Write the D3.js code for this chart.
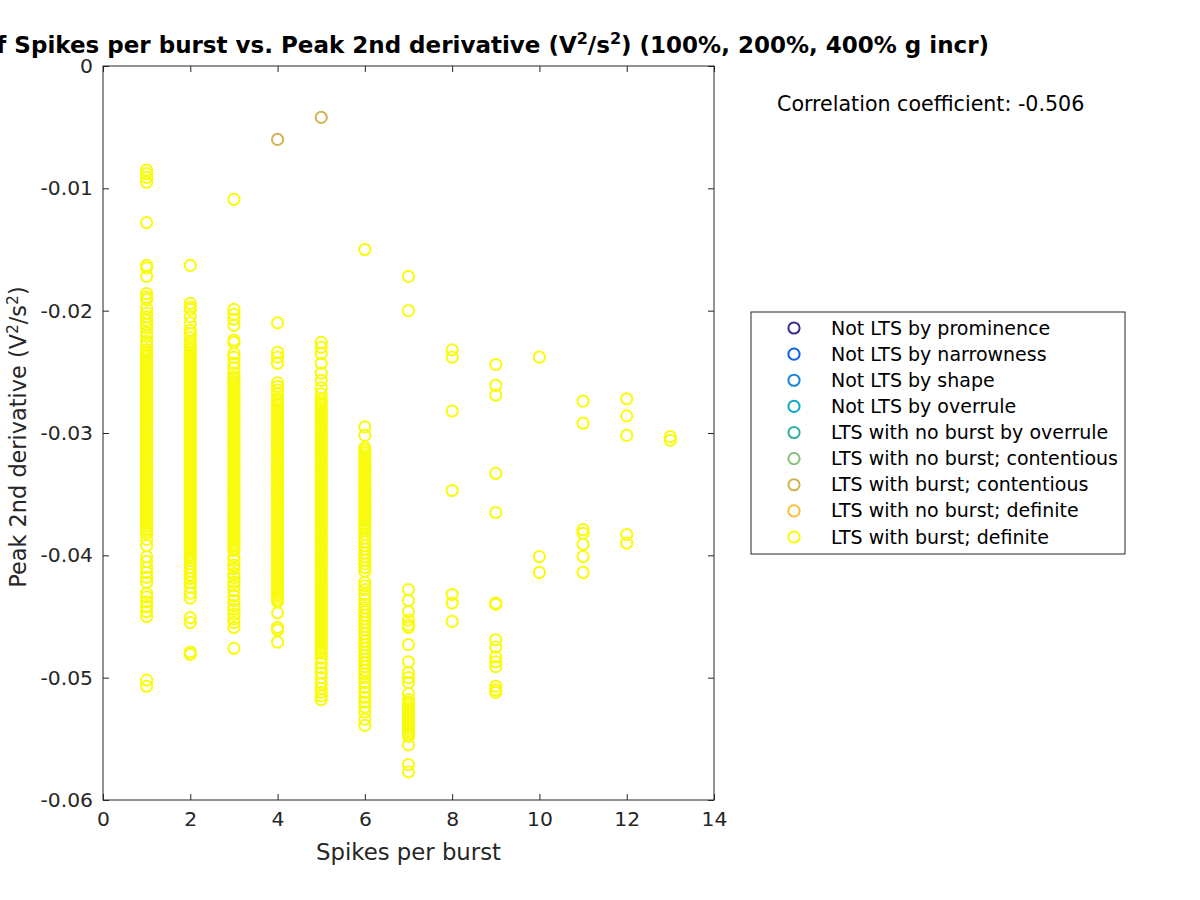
<!DOCTYPE html>
<html><head><meta charset="utf-8">
<script src="https://cdn.jsdelivr.net/npm/d3@7"></script>
<style>body{margin:0;background:#fff}svg{display:block;font-family:"DejaVu Sans",sans-serif}</style>
</head><body><svg id="c" width="1200" height="900"></svg>
<script>
// ---- data ----
const xTicks = [0,2,4,6,8,10,12,14];
const yTicks = [0,-0.01,-0.02,-0.03,-0.04,-0.05,-0.06];
const legendLabels = ["Not LTS by prominence","Not LTS by narrowness","Not LTS by shape","Not LTS by overrule","LTS with no burst by overrule","LTS with no burst; contentious","LTS with burst; contentious","LTS with no burst; definite","LTS with burst; definite"];
const legendColors = ["#3b2c92","#0e5fe0","#1a86d9","#0aa6c8","#2cb5a0","#84c07a","#d3b452","#fbbf3a","#f9fb0e"];
const correlationText = "Correlation coefficient: -0.506";

// LTS with burst; contentious
const contentiousX = [4,5];
const contentiousY = [-0.0060,-0.0042];

// LTS with burst; definite (peak 2nd derivative, V^2/s^2, per spikes-per-burst value)
const peak1 = [-0.0085,-0.0088,-0.0091,-0.0095,-0.0128,-0.0163,-0.0165,-0.0172,-0.0186,-0.0189,-0.0191,-0.0198,-0.0202,
 -0.0205,-0.0208,-0.0211,-0.0214,-0.0218,-0.0221,-0.0225,-0.0228,
 -0.0232,-0.0234,-0.0236,-0.0238,-0.0240,-0.0242,-0.0244,-0.0246,-0.0248,-0.0250,-0.0252,-0.0254,-0.0256,-0.0258,
 -0.0260,-0.0262,-0.0264,-0.0266,-0.0268,-0.0270,-0.0272,-0.0274,-0.0276,-0.0278,-0.0280,-0.0282,-0.0284,-0.0286,-0.0288,
 -0.0290,-0.0292,-0.0294,-0.0296,-0.0298,-0.0300,-0.0302,-0.0304,-0.0306,-0.0308,-0.0310,-0.0312,-0.0314,-0.0316,-0.0318,
 -0.0320,-0.0322,-0.0324,-0.0326,-0.0328,-0.0330,-0.0332,-0.0334,-0.0336,-0.0338,-0.0340,-0.0342,-0.0344,-0.0346,-0.0348,
 -0.0350,-0.0352,-0.0354,-0.0356,-0.0358,-0.0360,-0.0362,-0.0364,-0.0366,-0.0368,-0.0370,-0.0372,-0.0374,-0.0376,-0.0378,
 -0.0380,-0.0382,
 -0.0387,-0.0392,-0.0401,-0.0405,-0.0410,-0.0414,-0.0418,-0.0422,-0.0431,-0.0434,-0.0438,-0.0442,-0.0446,-0.0450,-0.0502,-0.0507];
const peak2 = [-0.0163,-0.0194,-0.0197,-0.0199,-0.0205,-0.0210,-0.0216,-0.0219,-0.0222,
 -0.0226,-0.0228,-0.0230,-0.0232,-0.0234,-0.0236,-0.0238,-0.0240,-0.0242,-0.0244,-0.0246,-0.0248,-0.0250,-0.0252,-0.0254,-0.0256,-0.0258,
 -0.0260,-0.0262,-0.0264,-0.0266,-0.0268,-0.0270,-0.0272,-0.0274,-0.0276,-0.0278,-0.0280,-0.0282,-0.0284,-0.0286,-0.0288,
 -0.0290,-0.0292,-0.0294,-0.0296,-0.0298,-0.0300,-0.0302,-0.0304,-0.0306,-0.0308,-0.0310,-0.0312,-0.0314,-0.0316,-0.0318,
 -0.0320,-0.0322,-0.0324,-0.0326,-0.0328,-0.0330,-0.0332,-0.0334,-0.0336,-0.0338,-0.0340,-0.0342,-0.0344,-0.0346,-0.0348,
 -0.0350,-0.0352,-0.0354,-0.0356,-0.0358,-0.0360,-0.0362,-0.0364,-0.0366,-0.0368,-0.0370,-0.0372,-0.0374,-0.0376,-0.0378,
 -0.0380,-0.0382,-0.0384,-0.0386,-0.0388,-0.0390,-0.0392,-0.0394,-0.0396,-0.0398,-0.0400,-0.0402,-0.0404,
 -0.0407,-0.0410,-0.0413,-0.0416,-0.0419,-0.0422,-0.0426,-0.0431,-0.0435,-0.0451,-0.0455,-0.0479,-0.0481];
const peak3 = [-0.0109,-0.0199,-0.0203,-0.0207,-0.0212,-0.0224,-0.0226,-0.0235,-0.0238,-0.0243,-0.0247,-0.0251,-0.0254,
 -0.0256,-0.0258,-0.0260,-0.0262,-0.0264,-0.0266,-0.0268,-0.0270,-0.0272,-0.0274,-0.0276,-0.0278,-0.0280,-0.0282,-0.0284,-0.0286,-0.0288,
 -0.0290,-0.0292,-0.0294,-0.0296,-0.0298,-0.0300,-0.0302,-0.0304,-0.0306,-0.0308,-0.0310,-0.0312,-0.0314,-0.0316,-0.0318,
 -0.0320,-0.0322,-0.0324,-0.0326,-0.0328,-0.0330,-0.0332,-0.0334,-0.0336,-0.0338,-0.0340,-0.0342,-0.0344,-0.0346,-0.0348,
 -0.0350,-0.0352,-0.0354,-0.0356,-0.0358,-0.0360,-0.0362,-0.0364,-0.0366,-0.0368,-0.0370,-0.0372,-0.0374,-0.0376,-0.0378,
 -0.0380,-0.0382,-0.0384,-0.0386,-0.0388,-0.0390,-0.0392,-0.0394,-0.0396,
 -0.0401,-0.0404,-0.0408,-0.0411,-0.0415,-0.0418,-0.0422,-0.0425,-0.0429,-0.0433,-0.0437,-0.0441,-0.0444,-0.0448,-0.0452,-0.0455,-0.0459,-0.0476];
const peak4 = [-0.0210,-0.0234,-0.0238,-0.0243,-0.0259,-0.0262,-0.0265,-0.0268,
 -0.0272,-0.0274,-0.0276,-0.0278,-0.0280,-0.0282,-0.0284,-0.0286,-0.0288,
 -0.0290,-0.0292,-0.0294,-0.0296,-0.0298,-0.0300,-0.0302,-0.0304,-0.0306,-0.0308,-0.0310,-0.0312,-0.0314,-0.0316,-0.0318,
 -0.0320,-0.0322,-0.0324,-0.0326,-0.0328,-0.0330,-0.0332,-0.0334,-0.0336,-0.0338,-0.0340,-0.0342,-0.0344,-0.0346,-0.0348,
 -0.0350,-0.0352,-0.0354,-0.0356,-0.0358,-0.0360,-0.0362,-0.0364,-0.0366,-0.0368,-0.0370,-0.0372,-0.0374,-0.0376,-0.0378,
 -0.0380,-0.0382,-0.0384,-0.0386,-0.0388,-0.0390,-0.0392,-0.0394,-0.0396,-0.0398,-0.0400,-0.0402,-0.0404,-0.0406,-0.0408,
 -0.0410,-0.0412,-0.0414,-0.0416,-0.0418,-0.0420,-0.0422,-0.0424,-0.0426,-0.0428,-0.0430,-0.0432,-0.0434,-0.0436,-0.0438,
 -0.0447,-0.0459,-0.0461,-0.0471];
const peak5 = [-0.0226,-0.0230,-0.0235,-0.0243,-0.0251,-0.0257,-0.0263,-0.0268,
 -0.0272,-0.0274,-0.0276,-0.0278,-0.0280,-0.0282,-0.0284,-0.0286,-0.0288,
 -0.0290,-0.0292,-0.0294,-0.0296,-0.0298,-0.0300,-0.0302,-0.0304,-0.0306,-0.0308,-0.0310,-0.0312,-0.0314,-0.0316,-0.0318,
 -0.0320,-0.0322,-0.0324,-0.0326,-0.0328,-0.0330,-0.0332,-0.0334,-0.0336,-0.0338,-0.0340,-0.0342,-0.0344,-0.0346,-0.0348,
 -0.0350,-0.0352,-0.0354,-0.0356,-0.0358,-0.0360,-0.0362,-0.0364,-0.0366,-0.0368,-0.0370,-0.0372,-0.0374,-0.0376,-0.0378,
 -0.0380,-0.0382,-0.0384,-0.0386,-0.0388,-0.0390,-0.0392,-0.0394,-0.0396,-0.0398,-0.0400,-0.0402,-0.0404,-0.0406,-0.0408,
 -0.0410,-0.0412,-0.0414,-0.0416,-0.0418,-0.0420,-0.0422,-0.0424,-0.0426,-0.0428,-0.0430,-0.0432,-0.0434,-0.0436,-0.0438,
 -0.0440,-0.0442,-0.0444,-0.0446,-0.0448,-0.0450,-0.0452,-0.0454,-0.0456,-0.0458,-0.0460,-0.0462,-0.0464,-0.0466,-0.0468,
 -0.0470,-0.0472,-0.0474,-0.0476,-0.0478,-0.0480,
 -0.0484,-0.0488,-0.0492,-0.0496,-0.0500,-0.0505,-0.0509,-0.0512,-0.0515,-0.0518];
const peak6 = [-0.0150,-0.0295,-0.0302,
 -0.0312,-0.0314,-0.0316,-0.0318,-0.0320,-0.0322,-0.0324,-0.0326,-0.0328,-0.0330,-0.0332,-0.0334,-0.0336,-0.0338,
 -0.0340,-0.0342,-0.0344,-0.0346,-0.0348,-0.0350,-0.0352,-0.0354,-0.0356,-0.0358,-0.0360,-0.0362,-0.0364,-0.0366,-0.0368,
 -0.0370,-0.0372,-0.0374,-0.0376,-0.0378,-0.0380,
 -0.0383,-0.0386,-0.0389,-0.0392,-0.0395,-0.0398,-0.0401,-0.0404,-0.0407,-0.0410,-0.0413,-0.0422,-0.0425,-0.0428,
 -0.0432,-0.0436,-0.0440,-0.0443,-0.0446,-0.0449,-0.0452,-0.0455,-0.0458,-0.0461,-0.0464,-0.0467,-0.0470,-0.0473,
 -0.0476,-0.0479,-0.0482,-0.0485,-0.0488,-0.0491,-0.0494,-0.0497,-0.0500,-0.0504,-0.0508,-0.0512,-0.0516,-0.0520,
 -0.0524,-0.0528,-0.0534,-0.0539];
const peak7 = [-0.0172,-0.0200,-0.0428,-0.0437,-0.0446,-0.0453,-0.0457,-0.0459,-0.0473,-0.0487,-0.0496,-0.0500,-0.0504,-0.0513,
 -0.0518,-0.0520,-0.0522,-0.0524,-0.0526,-0.0528,-0.0530,-0.0532,-0.0534,-0.0536,-0.0538,-0.0540,-0.0542,-0.0544,-0.0546,-0.0548,
 -0.0555,-0.0571,-0.0577];
const peak8 = [-0.0232,-0.0238,-0.0282,-0.0347,-0.0432,-0.0439,-0.0454];
const peak9 = [-0.0244,-0.0261,-0.0269,-0.0333,-0.0365,-0.0439,-0.0440,-0.0469,-0.0475,-0.0483,-0.0487,-0.0491,-0.0507,-0.0510,-0.0512];
const peak10 = [-0.0238,-0.0401,-0.0414];
const peak11 = [-0.0274,-0.0292,-0.0379,-0.0382,-0.0391,-0.0401,-0.0414];
const peak12 = [-0.0272,-0.0286,-0.0302,-0.0383,-0.0390];
const peak13 = [-0.0303,-0.0306];
const spikesPerBurst = [1,2,3,4,5,6,7,8,9,10,11,12,13];
const peaksBySpikes = [peak1,peak2,peak3,peak4,peak5,peak6,peak7,peak8,peak9,peak10,peak11,peak12,peak13];

// ---- drawing ----
const svg = d3.select("#c");
svg.append("rect").attr("width",1200).attr("height",900).attr("fill","#fff");
const L=103,R=714,T=66,B=800;
const x = d3.scaleLinear().domain([0,14]).range([L,R]);
const y = d3.scaleLinear().domain([-0.06,0]).range([B,T]);
const ink="#262626";
const MR=5.6, MW=2;

const definite = [];
spikesPerBurst.forEach((s,i)=>peaksBySpikes[i].forEach(v=>definite.push({x:s,y:v})));
const contentious = contentiousX.map((s,i)=>({x:s,y:contentiousY[i]}));

const gp = svg.append("g");
gp.selectAll("circle.d").data(definite).join("circle").attr("class","d")
  .attr("cx",d=>x(d.x)).attr("cy",d=>y(d.y)).attr("r",MR)
  .attr("fill","none").attr("stroke",legendColors[8]).attr("stroke-width",MW);
gp.selectAll("circle.c").data(contentious).join("circle").attr("class","c")
  .attr("cx",d=>x(d.x)).attr("cy",d=>y(d.y)).attr("r",MR)
  .attr("fill","none").attr("stroke",legendColors[6]).attr("stroke-width",MW);

// axes
const fmtY = d=> d===0?"0":d3.format(".2f")(d).replace("\u2212","-");
const ax = svg.append("g").attr("transform",`translate(0,${B})`)
  .call(d3.axisBottom(x).tickValues(xTicks).tickSize(-6).tickPadding(12).tickFormat(d3.format("d")));
const ay = svg.append("g").attr("transform",`translate(${L},0)`)
  .call(d3.axisLeft(y).tickValues(yTicks).tickSize(-6).tickPadding(10).tickFormat(fmtY));
const axT = svg.append("g").attr("transform",`translate(0,${T})`)
  .call(d3.axisTop(x).tickValues(xTicks).tickSize(-6).tickFormat(""));
const ayR = svg.append("g").attr("transform",`translate(${R},0)`)
  .call(d3.axisRight(y).tickValues(yTicks).tickSize(-6).tickFormat(""));
[ax,ay,axT,ayR].forEach(g=>{
  g.select(".domain").remove();
  g.selectAll("line").attr("stroke",ink);
  g.selectAll("text").attr("fill",ink).attr("font-size",20.3).attr("font-family","DejaVu Sans");
});
svg.append("rect").attr("x",L).attr("y",T).attr("width",R-L).attr("height",B-T)
  .attr("fill","none").attr("stroke",ink).attr("stroke-width",1);

// labels
svg.append("text").attr("x",(L+R)/2).attr("y",860).attr("text-anchor","middle")
  .attr("font-size",22.8).attr("fill",ink).text("Spikes per burst");
const yl = svg.append("text").attr("transform","translate(26,437) rotate(-90)").attr("text-anchor","middle")
  .attr("font-size",22.4).attr("fill",ink);
yl.append("tspan").text("Peak 2nd derivative (V");
yl.append("tspan").attr("font-size",15.5).attr("dy",-8).text("2");
yl.append("tspan").attr("dy",8).text("/s");
yl.append("tspan").attr("font-size",15.5).attr("dy",-8).text("2");
yl.append("tspan").attr("dy",8).text(")");

const tt = svg.append("text").attr("x",989).attr("y",53).attr("text-anchor","end")
  .attr("font-size",23).attr("font-weight","bold").attr("fill","#000");
tt.append("tspan").text("Correlation of Spikes per burst vs. Peak 2nd derivative (V");
tt.append("tspan").attr("font-size",16).attr("dy",-9).text("2");
tt.append("tspan").attr("dy",9).text("/s");
tt.append("tspan").attr("font-size",16).attr("dy",-9).text("2");
tt.append("tspan").attr("dy",9).text(") (100%, 200%, 400% g incr)");

svg.append("text").attr("x",777).attr("y",111).attr("font-size",20.6).attr("fill","#000").text(correlationText);

// legend
const lg = svg.append("g");
lg.append("rect").attr("x",751).attr("y",312).attr("width",374).attr("height",242)
  .attr("fill","#fff").attr("stroke",ink).attr("stroke-width",1);
const ly = d3.scaleLinear().domain([0,8]).range([328,537]);
legendLabels.forEach((lab,i)=>{
  lg.append("circle").attr("cx",794).attr("cy",ly(i)).attr("r",MR)
    .attr("fill","none").attr("stroke",legendColors[i]).attr("stroke-width",MW);
  lg.append("text").attr("x",831).attr("y",ly(i)+6.5).attr("font-size",19).attr("fill","#000").text(lab);
});
</script></body></html>
